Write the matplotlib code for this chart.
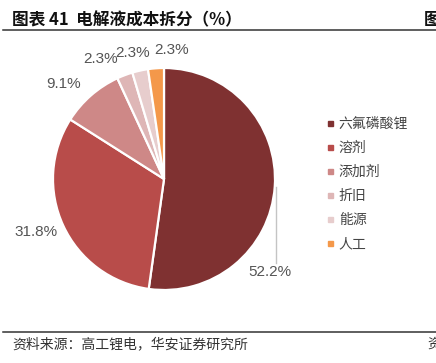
import numpy as np
import matplotlib
matplotlib.use("Agg")
import matplotlib.pyplot as plt
from matplotlib.lines import Line2D

categories = ["六氟磷酸锂", "溶剂", "添加剂", "折旧", "能源", "人工"]
values = [52.2, 31.8, 9.1, 2.3, 2.3, 2.3]
colors = ["#7F3131", "#B84C4A", "#CE8887", "#DEB6B6", "#E7CDCD", "#F4984A"]

plt.rcParams['font.family'] = ['Noto Sans CJK SC', 'DejaVu Sans']

W, H = 436, 363
fig = plt.figure(figsize=(W / 100, H / 100), dpi=100)

# pie axes: centre (164,179) px, radius 111 px
R = 111.0
cx, cy = 164.0, 179.0
a = 1.4
side = 2 * a * R
ax = fig.add_axes([(cx - side / 2) / W, (H - cy - side / 2) / H, side / W, side / H])
wedges, _ = ax.pie(values, colors=colors, startangle=90, counterclock=False,
                   wedgeprops=dict(edgecolor="white", linewidth=1.6))
ax.set_xlim(-a, a)
ax.set_ylim(-a, a)
ax.set_aspect("equal")
ax.axis("off")

# percentage labels
lab_dtheta = [0, -2.5, 5.3, 7.3, 1.6, -7.6]
lab_r = [1.0, 1.25, 1.25, 1.22, 1.17, 1.16]
for i, (w, v) in enumerate(zip(wedges, values)):
    mid = np.deg2rad((w.theta1 + w.theta2) / 2)
    txt = f"{v:.1f}%"
    if i == 0:
        x0, y0 = 1.01 * np.cos(mid), 1.01 * np.sin(mid)
        ax.plot([x0, x0], [y0, -0.76], color="#C4C4C4", lw=1.0, clip_on=False)
        ax.text(x0 - 0.05, -0.84, txt, ha="center", va="center", fontsize=11,
                color="#555555", family=["Liberation Sans", "DejaVu Sans"])
    else:
        th = mid + np.deg2rad(lab_dtheta[i])
        ax.text(lab_r[i] * np.cos(th), lab_r[i] * np.sin(th), txt, ha="center",
                va="center", fontsize=11, color="#555555",
                family=["Liberation Sans", "DejaVu Sans"])

# legend
handles = [Line2D([], [], marker="s", linestyle="none", markersize=3.6,
                  markerfacecolor=c, markeredgecolor=c) for c in colors]
fig.legend(handles, categories, loc="upper left",
           bbox_to_anchor=(320 / W, 1 - 111 / H), frameon=False,
           fontsize=10, labelcolor="#444444", handlelength=0.6,
           handletextpad=0.35, labelspacing=0.73, borderaxespad=0)

# title, rules, source
fig.text(12 / W, 1 - 20 / H, "图表 41  电解液成本拆分（%）", fontsize=12,
         fontweight="bold", color="#111111", ha="left", va="center")
fig.text(424 / W, 1 - 20 / H, "图", fontsize=12, fontweight="bold",
         color="#111111", ha="left", va="center")
fig.text(60 / W, 1 + 2 / H, "HuaAn Research", fontsize=7, color="#999999",
         ha="left", va="center", family=["Liberation Serif", "DejaVu Serif"])
fig.add_artist(Line2D([3 / W, 1], [1 - 30 / H, 1 - 30 / H], color="#333333", lw=1.1))
fig.add_artist(Line2D([3 / W, 1], [1 - 332 / H, 1 - 332 / H], color="#333333", lw=1.1))
fig.text(12 / W, 1 - 344 / H, "资料来源：高工锂电，华安证券研究所", fontsize=10,
         color="#333333", ha="left", va="center")
fig.text(427 / W, 1 - 344 / H, "资", fontsize=10, color="#333333",
         ha="left", va="center")

fig.savefig("out.png", dpi=100, facecolor="white")
